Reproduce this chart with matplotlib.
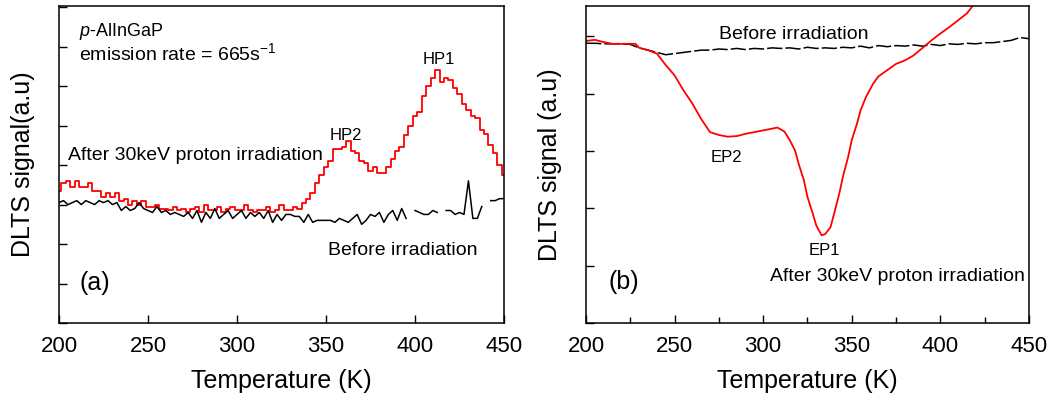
import numpy as np
import matplotlib
matplotlib.use("Agg")
from matplotlib import pyplot as plt
from matplotlib.ticker import MultipleLocator, NullFormatter

plt.rcParams['font.family'] = ['Liberation Sans', 'DejaVu Sans']
plt.rcParams['mathtext.fontset'] = 'custom'
plt.rcParams['mathtext.rm'] = 'Liberation Sans'
plt.rcParams['mathtext.it'] = 'Liberation Sans:italic'

# panel (a): p-AlInGaP, 2.5 K steps from 200 to 450 K
temp_a = np.arange(200, 450.1, 2.5)
after_a = [3.35, 3.55, 3.6, 3.45, 3.6, 3.45, 3.45, 3.55, 3.35, 3.35,
           3.2, 3.3, 3.2, 3.3, 3.1, 3.15, 3.0, 3.1, 3.0, 3.1,
           2.95, 2.95, 3.0, 2.9, 2.9, 2.85, 2.95, 2.85, 2.9, 2.8,
           2.9, 2.95, 2.8, 3.0, 2.85, 2.85, 2.95, 2.8, 2.9, 2.95,
           2.85, 2.85, 3.0, 2.85, 2.8, 2.85, 2.85, 2.95, 2.8, 2.85,
           3.0, 2.85, 2.85, 2.95, 2.9, 3.05, 3.15, 3.3, 3.55, 3.75,
           3.95, 4.1, 4.4, 4.4, 4.45, 4.6, 4.35, 4.3, 4.1, 4.05,
           3.85, 3.95, 3.8, 3.8, 3.95, 4.15, 4.35, 4.45, 4.75, 5.0,
           5.25, 5.35, 5.75, 6.0, 6.2, 6.4, 6.1, 6.2, 6.15, 5.95,
           5.8, 5.55, 5.4, 5.25, 5.2, 4.9, 4.8, 4.5, 4.3, 4.0, 3.75]
nan = np.nan
before_a = [3.05, 3.1, 3.0, 3.05, 3.1, 3.0, 3.1, 3.05, 3.0, 3.1,
            3.05, 3.1, 3.0, 3.05, 2.85, 2.95, 2.85, 2.9, 3.05, 2.9,
            2.85, 2.8, 2.95, 2.8, 2.85, 2.75, 2.8, 2.75, 2.7, 2.8,
            2.65, 2.85, 2.55, 2.8, 2.65, 2.9, 2.65, 2.75, 2.85, 2.65,
            2.75, 2.85, 2.65, 2.8, 2.7, 2.8, 2.65, 2.85, 2.55, 2.75,
            2.6, 2.75, 2.75, 2.7, 2.7, 2.55, 2.75, 2.55, 2.6, 2.6,
            2.6, 2.6, 2.55, 2.65, 2.6, 2.55, 2.65, 2.75, 2.5, 2.6,
            2.75, 2.7, 2.8, 2.55, 2.75, 2.85, 2.6, 2.9, 2.65, nan,
            2.85, 2.8, 2.75, 2.75, 2.85, 2.8, nan, 2.85, 2.85, 2.75,
            2.8, 2.75, 3.6, 2.65, 2.65, 2.95, nan, 3.1, 3.1, 3.15, 3.15]

# panel (b)
temp_b_after = [200, 205, 210, 215, 220, 225, 228, 230, 235, 240, 245, 250, 255, 260,
                265, 270, 275, 280, 285, 290, 295, 300, 305, 308, 312, 315, 318, 320,
                323, 325, 328, 330, 333, 335, 338, 340, 343, 345, 348, 350, 353, 355,
                358, 362, 365, 370, 375, 380, 385, 390, 395, 400, 405, 410, 415, 418, 422]
after_b = [4.92, 4.94, 4.9, 4.87, 4.87, 4.87, 4.87, 4.8, 4.76, 4.7, 4.5, 4.32, 4.06, 3.83,
           3.56, 3.33, 3.28, 3.25, 3.26, 3.3, 3.33, 3.36, 3.39, 3.41, 3.34, 3.19, 3.01, 2.78,
           2.49, 2.2, 1.91, 1.7, 1.53, 1.55, 1.67, 1.9, 2.26, 2.55, 2.9, 3.19, 3.48, 3.71,
           3.94, 4.17, 4.3, 4.41, 4.52, 4.58, 4.67, 4.8, 4.93, 5.05, 5.16, 5.28, 5.4, 5.52, 5.7]
temp_b_before = np.arange(200, 450.1, 5)
before_b = [4.88, 4.88, 4.87, 4.87, 4.87, 4.86, 4.8, 4.76, 4.72, 4.68,
            4.7, 4.72, 4.74, 4.76, 4.76, 4.78, 4.77, 4.79, 4.77, 4.79,
            4.78, 4.8, 4.79, 4.8, 4.78, 4.81, 4.79, 4.8, 4.79, 4.81,
            4.8, 4.83, 4.8, 4.84, 4.82, 4.84, 4.83, 4.85, 4.83, 4.86,
            4.84, 4.87, 4.86, 4.88, 4.87, 4.89, 4.89, 4.91, 4.93, 4.98, 4.96]

fig = plt.figure(figsize=(10.62, 4.03), dpi=100)
ax1 = fig.add_axes([0.0556, 0.1985, 0.419, 0.7866])
ax2 = fig.add_axes([0.5518, 0.1985, 0.417, 0.7866])

for ax in (ax1, ax2):
    ax.set_xlim(200, 450)
    ax.xaxis.set_major_locator(MultipleLocator(50))
    ax.yaxis.set_major_locator(MultipleLocator(1))
    ax.yaxis.set_major_formatter(NullFormatter())
    ax.tick_params(direction='in', length=6, width=1, labelsize=16, pad=9)
    ax.tick_params(axis='y', right=False)
    for s in ax.spines.values():
        s.set_linewidth(1.1)
    ax.set_xlabel("Temperature (K)", fontsize=18, labelpad=9)

# (a)
ax1.set_ylim(0, 8.03)
ax1.plot(temp_a, after_a, color='#ff0000', lw=1.3, drawstyle='steps-mid')
ax1.plot(temp_a, before_a, color='black', lw=1.1)
ax1.set_ylabel("DLTS signal(a.u)", fontsize=18, labelpad=8)
ax1.text(211.2, 7.28, r"$\it{p}$-AlInGaP", fontsize=13)
ax1.text(211.2, 6.65, r"emission rate = 665s$^{-1}$", fontsize=14)
ax1.text(413.5, 6.55, "HP1", fontsize=12, ha='center')
ax1.text(361, 4.64, "HP2", fontsize=12, ha='center')
ax1.text(205, 4.12, "After 30keV proton irradiation", fontsize=14)
ax1.text(351, 1.71, "Before irradiation", fontsize=14)
ax1.text(211.6, 0.83, "(a)", fontsize=18)

# (b)
ax2.set_ylim(0, 5.53)
ax2.xaxis.set_minor_locator(MultipleLocator(25))
ax2.tick_params(which='minor', direction='in', length=4, width=1)
ax2.plot(temp_b_before, before_b, color='black', lw=1.1, dashes=(10, 2))
ax2.plot(temp_b_after, after_b, color='#ff0000', lw=1.3)
ax2.set_ylabel("DLTS signal (a.u)", fontsize=18, labelpad=8)
ax2.text(275.2, 4.95, "Before irradiation", fontsize=14)
ax2.text(279, 2.81, "EP2", fontsize=12, ha='center')
ax2.text(334.8, 1.18, "EP1", fontsize=12, ha='center')
ax2.text(447.6, 0.74, "After 30keV proton irradiation", fontsize=14, ha='right')
ax2.text(212.8, 0.6, "(b)", fontsize=18)

fig.savefig("out.png", dpi=100)
